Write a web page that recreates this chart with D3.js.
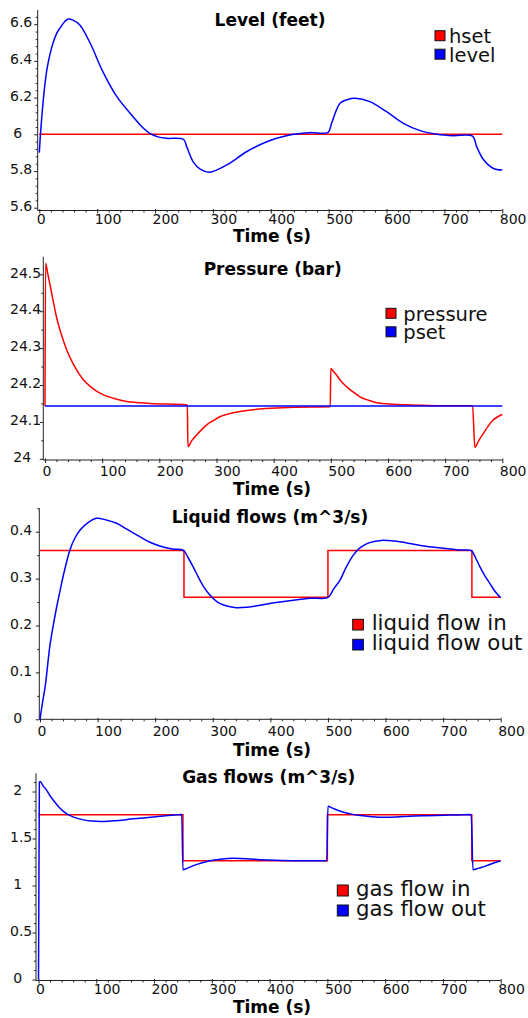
<!DOCTYPE html>
<html>
<head>
<meta charset="utf-8">
<script src="https://cdn.jsdelivr.net/npm/d3@7"></script>
<style>
  body { margin: 0; background: #fff; }
  svg { display: block; font-family: "DejaVu Sans", sans-serif; }
</style>
</head>
<body>
<svg id="chart" width="528" height="1018"></svg>
<script>
// time ticks shared by all four plots
const timeTicks = [0, 100, 200, 300, 400, 500, 600, 700, 800];

// Level (feet)
const levelTicks = [5.6, 5.8, 6, 6.2, 6.4, 6.6];
const hsetT = [0, 800];
const hsetV = [6, 6];
const levelT = [0, 2, 5, 7, 10, 13, 18, 24, 30, 36, 44, 50, 58, 70, 88, 110, 134, 162, 176, 191, 205, 220, 249,
  255, 266, 278, 294, 324, 358, 390, 410, 439, 468, 499,
  505, 520, 533, 546, 571, 600, 629, 658, 687, 715, 748,
  756, 767, 784, 800];
const levelV = [5.90, 6.00, 6.12, 6.19, 6.28, 6.35, 6.43, 6.50, 6.55, 6.58, 6.615, 6.628, 6.622, 6.596, 6.496, 6.34, 6.205, 6.096, 6.045, 6.005, 5.986, 5.978, 5.973,
  5.93, 5.85, 5.81, 5.793, 5.833, 5.905, 5.955, 5.978, 6.0, 6.009, 6.011,
  6.06, 6.17, 6.19, 6.196, 6.178, 6.123, 6.06, 6.02, 6.0, 5.992, 5.991,
  5.93, 5.864, 5.815, 5.805];

// Pressure (bar)
const pressureTicks = [24, 24.1, 24.2, 24.3, 24.4, 24.5];
const pressureT = [0, 1, 5, 9, 14, 20, 28, 38, 50, 67, 80, 96, 120, 143, 184, 249,
  250, 257, 265, 274, 283, 295, 306, 320, 341, 370, 394, 434, 499,
  500, 505, 510, 518, 528, 540, 551, 565, 580, 610, 639, 697, 748,
  752, 759, 767, 775, 784, 792, 800];
const pressureV = [24.143, 24.53, 24.50, 24.47, 24.43, 24.385, 24.34, 24.295, 24.255, 24.214, 24.195, 24.178, 24.164, 24.155, 24.15, 24.146,
  24.033, 24.05, 24.064, 24.079, 24.092, 24.104, 24.114, 24.121, 24.128, 24.134, 24.137, 24.14, 24.141,
  24.245, 24.236, 24.227, 24.21, 24.195, 24.18, 24.168, 24.159, 24.152, 24.148, 24.146, 24.144, 24.144,
  24.031, 24.05, 24.069, 24.088, 24.105, 24.114, 24.12];
const psetT = [0, 800];
const psetV = [24.143, 24.143];

// Liquid flows (m^3/s)
const liquidTicks = [0, 0.1, 0.2, 0.3, 0.4];
const liquidInT = [0, 250, 250, 500, 500, 750, 750, 800];
const liquidInV = [0.36, 0.36, 0.26, 0.26, 0.36, 0.36, 0.26, 0.26];
const liquidOutT = [0, 4, 9, 17, 23, 29, 35, 40, 52, 60, 70, 84, 98, 115, 133, 150, 174, 190, 208, 230, 249,
  257, 266, 275, 284, 295, 307, 320, 341, 360, 382, 410, 440, 470, 500,
  510, 521, 532, 544, 555, 567, 580, 596, 615, 642, 670, 700, 730, 749,
  756, 764, 772, 781, 790, 800];
const liquidOutV = [0, 0.033, 0.07, 0.155, 0.2, 0.24, 0.275, 0.304, 0.361, 0.385, 0.404, 0.42, 0.4286, 0.425, 0.418, 0.406, 0.389, 0.378, 0.3695, 0.363, 0.3603,
  0.345, 0.325, 0.303, 0.283, 0.265, 0.251, 0.243, 0.238, 0.239, 0.243, 0.249, 0.254, 0.258, 0.26,
  0.278, 0.297, 0.325, 0.35, 0.365, 0.374, 0.379, 0.382, 0.38, 0.375, 0.369, 0.3646, 0.361, 0.3595,
  0.345, 0.325, 0.307, 0.29, 0.273, 0.259];

// Gas flows (m^3/s)
const gasTicks = [0, 0.5, 1, 1.5, 2];
const gasInT = [0, 250, 250, 500, 500, 750, 750, 800];
const gasInV = [1.752, 1.752, 1.264, 1.264, 1.752, 1.752, 1.264, 1.264];
const gasOutT = [0, 1.5, 3, 8, 14.5, 20, 26, 36, 49, 62, 78, 92, 107, 130, 164, 190, 211, 230, 248,
  250, 258, 268, 282, 297, 315, 337, 360, 384, 410, 441, 499,
  501, 510, 518, 528, 540, 557, 577, 597, 620, 643, 670, 701, 725, 749,
  752, 762, 776, 788, 800];
const gasOutV = [0, 2.10, 2.107, 2.06, 2.01, 1.955, 1.904, 1.83, 1.762, 1.725, 1.698, 1.685, 1.68, 1.688, 1.709, 1.724, 1.737, 1.748, 1.755,
  1.168, 1.185, 1.211, 1.24, 1.264, 1.28, 1.289, 1.285, 1.275, 1.268, 1.264, 1.264,
  1.843, 1.82, 1.8, 1.78, 1.762, 1.744, 1.732, 1.726, 1.73, 1.737, 1.742, 1.747, 1.751, 1.755,
  1.168, 1.185, 1.211, 1.24, 1.264];

const RED = "#ff0000";
const BLUE = "#0000ff";

const panels = [
  {
    title: "Level (feet)", titleX: 270, titleY: 25.5, timeY: 242,
    xRange: [39.3, 502.3], axisX: 37.7, axisY: 210.5, top: 10, labelY: 224,
    yDomain: [5.6, 6.6], yRange: [207.7, 24.2], yTicks: levelTicks,
    yMinor: d3.range(0, 27).map(i => 5.6 + i * 0.04),
    series: [
      { t: hsetT, v: hsetV, color: RED, name: "hset", curve: d3.curveLinear },
      { t: levelT, v: levelV, color: BLUE, name: "level", curve: d3.curveCatmullRom.alpha(0.5) }
    ],
    legend: { x: 435, y: 30.7, size: 10, textX: 449, base: 43.3, gap: 18.5, font: 19.5 }
  },
  {
    title: "Pressure (bar)", titleX: 272.7, titleY: 275, timeY: 494.5,
    xRange: [45, 502.3], axisX: 43.3, axisY: 460, top: 256.7, labelY: 476,
    yDomain: [24, 24.5], yRange: [458.8, 274.3], yTicks: pressureTicks,
    yMinor: d3.range(0, 11).map(i => 24 + i * 0.05),
    series: [
      { t: pressureT, v: pressureV, color: RED, name: "pressure", curve: d3.curveMonotoneX },
      { t: psetT, v: psetV, color: BLUE, name: "pset", curve: d3.curveLinear }
    ],
    legend: { x: 386, y: 308.3, size: 10, textX: 403.3, base: 320.5, gap: 18.5, font: 19.5 }
  },
  {
    title: "Liquid flows (m^3/s)", titleX: 270, titleY: 523, timeY: 756,
    xRange: [40, 500.7], axisX: 39.3, axisY: 719.3, top: 508.3, labelY: 736.5,
    yDomain: [0, 0.4], yRange: [719.3, 531.7], yTicks: liquidTicks,
    yMinor: d3.range(0, 10).map(i => i * 0.05),
    series: [
      { t: liquidInT, v: liquidInV, color: RED, name: "liquid flow in", curve: d3.curveLinear },
      { t: liquidOutT, v: liquidOutV, color: BLUE, name: "liquid flow out", curve: d3.curveCatmullRom.alpha(0.5) }
    ],
    legend: { x: 352.7, y: 619.3, size: 10.7, textX: 371.7, base: 629.8, gap: 20, font: 21.3 }
  },
  {
    title: "Gas flows (m^3/s)", titleX: 268.7, titleY: 783.3, timeY: 1012.5,
    xRange: [38.5, 500.7], axisX: 36, axisY: 980.5, top: 773.3, labelY: 994,
    yDomain: [0, 2], yRange: [979.5, 791.5], yTicks: gasTicks,
    yMinor: d3.range(0, 22).map(i => i * 0.1),
    series: [
      { t: gasInT, v: gasInV, color: RED, name: "gas flow in", curve: d3.curveLinear },
      { t: gasOutT, v: gasOutV, color: BLUE, name: "gas flow out", curve: d3.curveMonotoneX }
    ],
    legend: { x: 337.3, y: 885, size: 11, textX: 356, base: 896, gap: 20, font: 21.3 }
  }
];

const svg = d3.select("#chart");
const fmt = d => String(+d.toFixed(3));

panels.forEach(drawPanel);

function drawPanel(p) {
  const x = d3.scaleLinear().domain([0, 800]).range(p.xRange);
  const y = d3.scaleLinear().domain(p.yDomain).range(p.yRange);
  const g = svg.append("g");

  // axis lines
  g.append("line")
    .attr("x1", p.axisX).attr("x2", p.xRange[1])
    .attr("y1", p.axisY).attr("y2", p.axisY)
    .attr("stroke", "#222").attr("stroke-width", 1);
  g.append("line")
    .attr("x1", p.axisX).attr("x2", p.axisX)
    .attr("y1", p.top).attr("y2", p.axisY)
    .attr("stroke", "#222").attr("stroke-width", 1);

  // x axis, major ticks + labels
  const xa = g.append("g")
    .attr("transform", `translate(0,${p.axisY})`)
    .call(d3.axisBottom(x).tickValues(timeTicks).tickSize(3).tickFormat(d3.format("d")));
  xa.attr("font-size", null).attr("font-family", null).attr("color", "#222");
  xa.select(".domain").remove();
  xa.selectAll(".tick line").attr("y1", -1.5);
  xa.selectAll(".tick text")
    .attr("text-anchor", "start")
    .attr("x", -3)
    .attr("dy", null)
    .attr("y", p.labelY - p.axisY)
    .attr("font-size", 14)
    .attr("fill", "#111");

  // x axis, minor ticks every 20 s
  const minorT = d3.range(0, 801, 20).filter(d => d % 100 !== 0);
  const xm = g.append("g")
    .attr("transform", `translate(0,${p.axisY})`)
    .call(d3.axisBottom(x).tickValues(minorT).tickSize(2).tickFormat(""));
  xm.attr("color", "#222");
  xm.select(".domain").remove();

  // y axis, major ticks + labels
  const ya = g.append("g")
    .attr("transform", `translate(${p.axisX},0)`)
    .call(d3.axisLeft(y).tickValues(p.yTicks).tickSize(3.5).tickFormat(fmt));
  ya.attr("font-size", null).attr("font-family", null).attr("color", "#222");
  ya.select(".domain").remove();
  ya.selectAll(".tick text")
    .attr("text-anchor", "start")
    .attr("x", d => 10 - p.axisX + (Number.isInteger(d) ? 3.3 : 0))
    .attr("dy", null)
    .attr("y", 2.7)
    .attr("font-size", 14)
    .attr("fill", "#111");

  // y axis, minor ticks
  const step = p.yTicks[1] - p.yTicks[0];
  const minorY = p.yMinor.filter(v => {
    const k = (v - p.yTicks[0]) / step;
    return Math.abs(k - Math.round(k)) > 1e-6;
  });
  const ym = g.append("g")
    .attr("transform", `translate(${p.axisX},0)`)
    .call(d3.axisLeft(y).tickValues(minorY).tickSize(2).tickFormat(""));
  ym.attr("color", "#222");
  ym.select(".domain").remove();

  // curves
  p.series.forEach(s => {
    const pts = s.t.map((t, i) => [t, s.v[i]]);
    const line = d3.line()
      .x(d => x(d[0]))
      .y(d => y(d[1]))
      .curve(s.curve);
    g.append("path")
      .datum(pts)
      .attr("d", line)
      .attr("fill", "none")
      .attr("stroke", s.color)
      .attr("stroke-width", 1.5);
  });

  // titles
  g.append("text")
    .attr("x", p.titleX).attr("y", p.titleY)
    .attr("text-anchor", "middle")
    .attr("font-size", 17).attr("font-weight", "bold")
    .attr("fill", "#000")
    .text(p.title);
  g.append("text")
    .attr("x", 272).attr("y", p.timeY)
    .attr("text-anchor", "middle")
    .attr("font-size", 17).attr("font-weight", "bold")
    .attr("fill", "#000")
    .text("Time (s)");

  // legend
  const L = p.legend;
  p.series.forEach((s, i) => {
    g.append("rect")
      .attr("x", L.x).attr("y", L.y + i * L.gap)
      .attr("width", L.size).attr("height", L.size)
      .attr("fill", s.color)
      .attr("stroke", "#111").attr("stroke-width", 1);
    g.append("text")
      .attr("x", L.textX).attr("y", L.base + i * L.gap)
      .attr("font-size", L.font)
      .attr("fill", "#111")
      .text(s.name);
  });
}
</script>
</body>
</html>
